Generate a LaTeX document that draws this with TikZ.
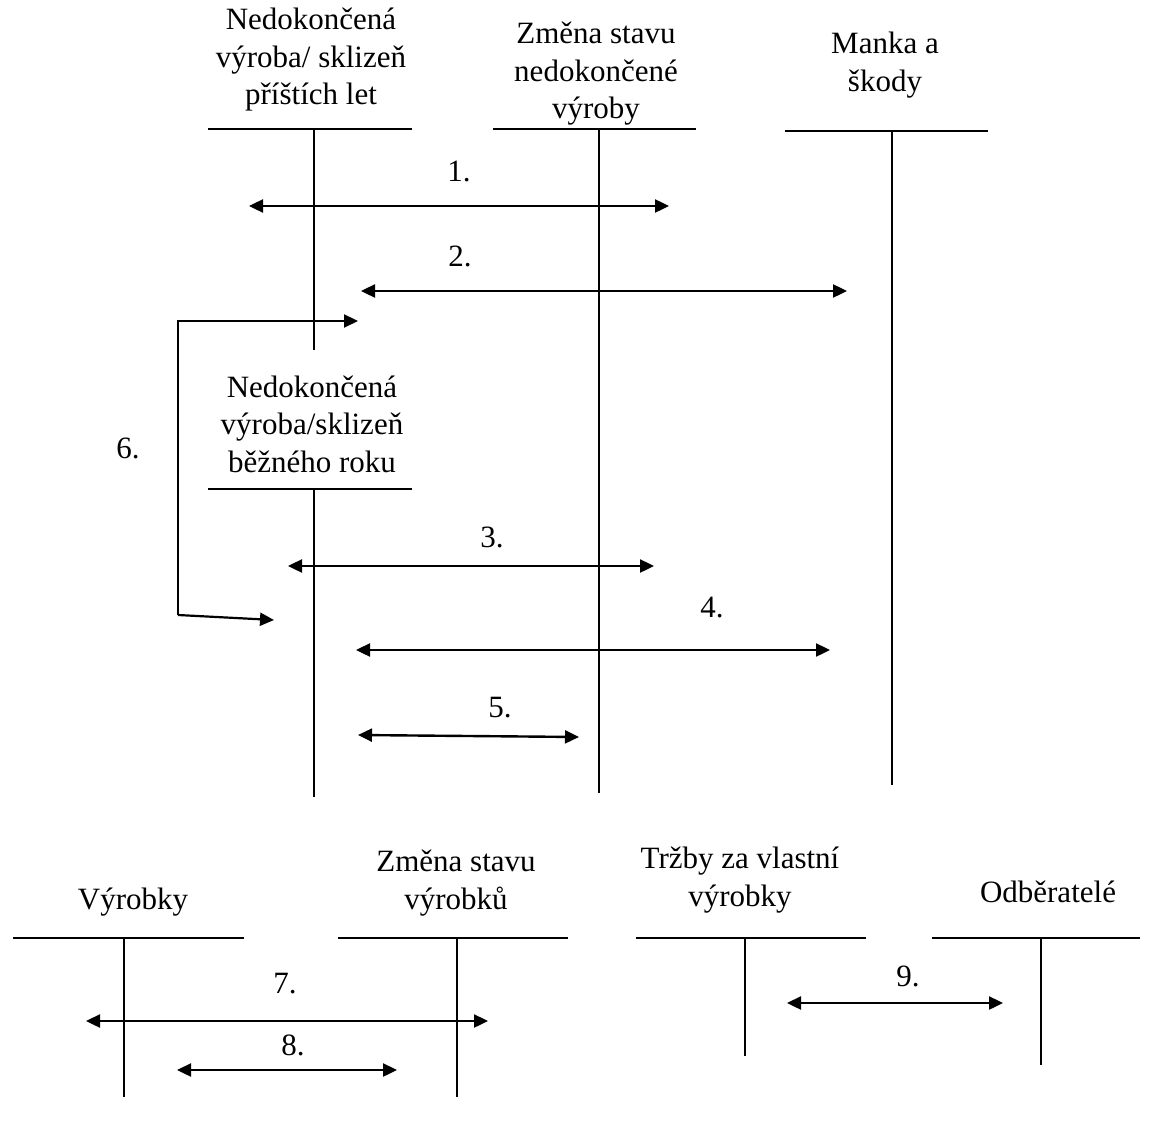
\documentclass[tikz,border=0pt]{standalone}
\usepackage{fontspec}
\setmainfont{Liberation Serif}
\usetikzlibrary{arrows.meta}
\begin{document}
\begin{tikzpicture}[x=1pt,y=-1pt,
  title/.style={align=center,font=\fontsize{31}{37.5}\selectfont,inner sep=0pt},
  num/.style={font=\fontsize{31}{36}\selectfont,inner sep=0pt},
  tline/.style={line width=1.8pt},
  vline/.style={line width=1.5pt},
  flow/.style={line width=2.4pt,{Triangle[length=14pt,width=13pt]}-{Triangle[length=14pt,width=13pt]}},
  oneway/.style={line width=2.2pt,-{Triangle[length=14pt,width=13pt]}}]
\useasboundingbox (0,0) rectangle (1152,1124);

% T-account: Nedokončená výroba/ sklizeň příštích let
\node[title] (t1) at (311,60) {Nedokončená\\výroba/ sklizeň\\příštích let};
\coordinate (t1l) at (208,129); \coordinate (t1r) at (412,129);
\coordinate (t1a) at (314,129); \coordinate (t1b) at (314,350);
\draw[tline] (t1l) -- (t1r);
\draw[vline] (t1a) -- (t1b);

% T-account: Změna stavu nedokončené výroby
\node[title] (t2) at (596,74) {Změna stavu\\nedokončené\\výroby};
\coordinate (t2l) at (493,129); \coordinate (t2r) at (696,129);
\coordinate (t2a) at (599,129); \coordinate (t2b) at (599,793);
\draw[tline] (t2l) -- (t2r);
\draw[vline] (t2a) -- (t2b);

% T-account: Manka a škody
\node[title] (t3) at (885,65) {Manka a\\škody};
\coordinate (t3l) at (785,131); \coordinate (t3r) at (988,131);
\coordinate (t3a) at (892,131); \coordinate (t3b) at (892,785);
\draw[tline] (t3l) -- (t3r);
\draw[vline] (t3a) -- (t3b);

% T-account: Nedokončená výroba/sklizeň běžného roku
\node[title] (t4) at (312,424) {Nedokončená\\výroba/sklizeň\\běžného roku};
\coordinate (t4l) at (208,489); \coordinate (t4r) at (412,489);
\coordinate (t4a) at (314,489); \coordinate (t4b) at (314,797);
\draw[tline] (t4l) -- (t4r);
\draw[vline] (t4a) -- (t4b);

% operations 1-5
\coordinate (a1s) at (249,206); \coordinate (a1e) at (669,206);
\draw[flow] (a1s) -- (a1e);
\node[num] (n1) at (459,171) {1.};

\coordinate (a2s) at (361,291); \coordinate (a2e) at (847,291);
\draw[flow] (a2s) -- (a2e);
\node[num] (n2) at (460,256) {2.};

\coordinate (a3s) at (288,566); \coordinate (a3e) at (654,566);
\draw[flow] (a3s) -- (a3e);
\node[num] (n3) at (492,537) {3.};

\coordinate (a4s) at (356,650); \coordinate (a4e) at (830,650);
\draw[flow] (a4s) -- (a4e);
\node[num] (n4) at (712,608) {4.};

\coordinate (a5s) at (358,735); \coordinate (a5e) at (579,737);
\draw[flow] (a5s) -- (a5e);
\node[num] (n5) at (500,708) {5.};

% operation 6: transfer between the two work-in-progress accounts
\coordinate (b6a) at (358,321); \coordinate (b6b) at (178,321);
\coordinate (b6c) at (178,615); \coordinate (b6d) at (274,620);
\draw[oneway] (b6c) -- (b6b) -- (b6a);
\draw[oneway] (b6c) -- (b6d);
\node[num] (n6) at (128,448) {6.};

% T-account: Výrobky
\node[title] (t5) at (133,902) {Výrobky};
\coordinate (t5l) at (13,938); \coordinate (t5r) at (244,938);
\coordinate (t5a) at (124,938); \coordinate (t5b) at (124,1097);
\draw[tline] (t5l) -- (t5r);
\draw[vline] (t5a) -- (t5b);

% T-account: Změna stavu výrobků
\node[title] (t6) at (456,883) {Změna stavu\\výrobků};
\coordinate (t6l) at (338,938); \coordinate (t6r) at (568,938);
\coordinate (t6a) at (457,938); \coordinate (t6b) at (457,1097);
\draw[tline] (t6l) -- (t6r);
\draw[vline] (t6a) -- (t6b);

% T-account: Tržby za vlastní výrobky
\node[title] (t7) at (740,880) {Tržby za vlastní\\výrobky};
\coordinate (t7l) at (636,938); \coordinate (t7r) at (866,938);
\coordinate (t7a) at (745,938); \coordinate (t7b) at (745,1056);
\draw[tline] (t7l) -- (t7r);
\draw[vline] (t7a) -- (t7b);

% T-account: Odběratelé
\node[title] (t8) at (1048,892) {Odběratelé};
\coordinate (t8l) at (932,938); \coordinate (t8r) at (1140,938);
\coordinate (t8a) at (1041,938); \coordinate (t8b) at (1041,1065);
\draw[tline] (t8l) -- (t8r);
\draw[vline] (t8a) -- (t8b);

% operations 7-9
\coordinate (a7s) at (86,1021); \coordinate (a7e) at (488,1021);
\draw[flow] (a7s) -- (a7e);
\node[num] (n7) at (285,984) {7.};

\coordinate (a8s) at (177,1070); \coordinate (a8e) at (397,1070);
\draw[flow] (a8s) -- (a8e);
\node[num] (n8) at (293,1045) {8.};

\coordinate (a9s) at (787,1003); \coordinate (a9e) at (1003,1003);
\draw[flow] (a9s) -- (a9e);
\node[num] (n9) at (908,976) {9.};
\end{tikzpicture}
\end{document}
